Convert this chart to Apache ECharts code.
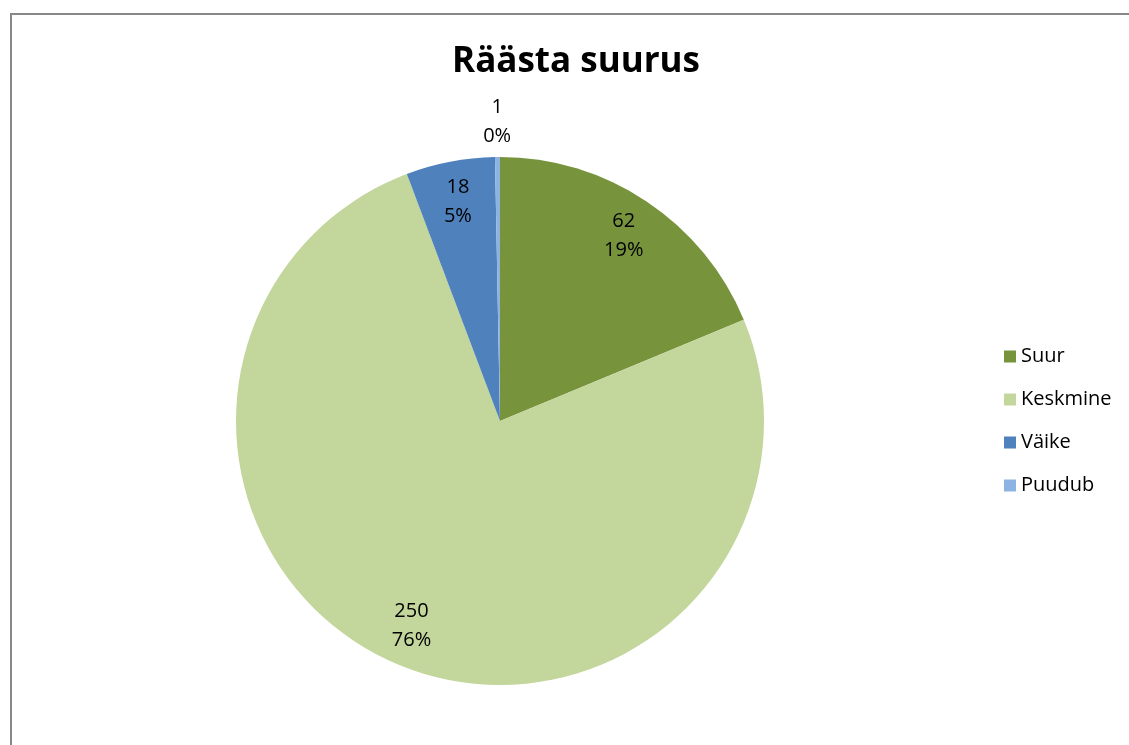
<!DOCTYPE html>
<html>
<head>
<meta charset="utf-8">
<script src="https://cdn.jsdelivr.net/npm/echarts@6/dist/echarts.min.js"></script>
<style>
  html, body { margin: 0; padding: 0; background: #fff; }
  #pie { width: 1129px; height: 745px; }
</style>
</head>
<body>
<div id="pie"></div>
<script>
// andmed
const categories = ['Suur', 'Keskmine', 'Väike', 'Puudub'];
const counts = [62, 250, 18, 1];
const colors = ['#77933C', '#C3D69B', '#4F81BD', '#8DB3E2'];

const font = '"Open Sans", "Noto Sans", sans-serif';
const total = counts.reduce((a, b) => a + b, 0);
const pieData = categories.map((name, i) => ({
  name: name,
  value: counts[i],
  itemStyle: { color: colors[i] }
}));

function labelText(p) {
  return p.value + '\n' + Math.round(p.value / total * 100) + '%';
}

const labelStyle = {
  show: true,
  position: 'inside',
  formatter: labelText,
  color: '#000',
  fontFamily: font,
  fontSize: 20,
  lineHeight: 29
};

const option = {
  animation: false,
  title: {
    text: 'Räästa suurus',
    left: 571,
    top: 40,
    textAlign: 'center',
    textStyle: { fontFamily: font, fontSize: 35, fontWeight: 'bold', color: '#000' }
  },
  legend: {
    orient: 'vertical',
    left: 999,
    top: 338,
    icon: 'rect',
    itemWidth: 12,
    itemHeight: 12,
    itemGap: 16,
    data: categories,
    textStyle: { fontFamily: font, fontSize: 20, color: '#000', lineHeight: 27 }
  },
  graphic: [{
    type: 'rect',
    shape: { x: 11, y: 14, width: 1200, height: 800 },
    style: { fill: 'none', stroke: '#888', lineWidth: 2 },
    silent: true
  }],
  series: [
    {
      // põhiline sektordiagramm
      type: 'pie',
      center: [500, 421],
      radius: [0, 264],
      startAngle: 90,
      clockwise: true,
      label: { show: false },
      labelLine: { show: false },
      data: pieData
    },
    {
      // sildid sektorite sees
      type: 'pie',
      silent: true,
      center: [500, 421],
      radius: [178, 262],
      startAngle: 90,
      clockwise: true,
      itemStyle: { color: 'rgba(0,0,0,0)' },
      label: labelStyle,
      labelLine: { show: false },
      data: categories.map((name, i) => ({
        name: name,
        value: counts[i],
        itemStyle: { color: 'rgba(0,0,0,0)' },
        label: { show: i < 3 }
      }))
    },
    {
      // väikese sektori silt väljaspool
      type: 'pie',
      silent: true,
      center: [500, 421],
      radius: [268, 324],
      startAngle: 90,
      clockwise: true,
      itemStyle: { color: 'rgba(0,0,0,0)' },
      label: labelStyle,
      labelLine: { show: false },
      data: categories.map((name, i) => ({
        name: name,
        value: counts[i],
        itemStyle: { color: 'rgba(0,0,0,0)' },
        label: { show: i === 3 }
      }))
    }
  ]
};

const chart = echarts.init(document.getElementById('pie'));
chart.setOption(option);
</script>
</body>
</html>
